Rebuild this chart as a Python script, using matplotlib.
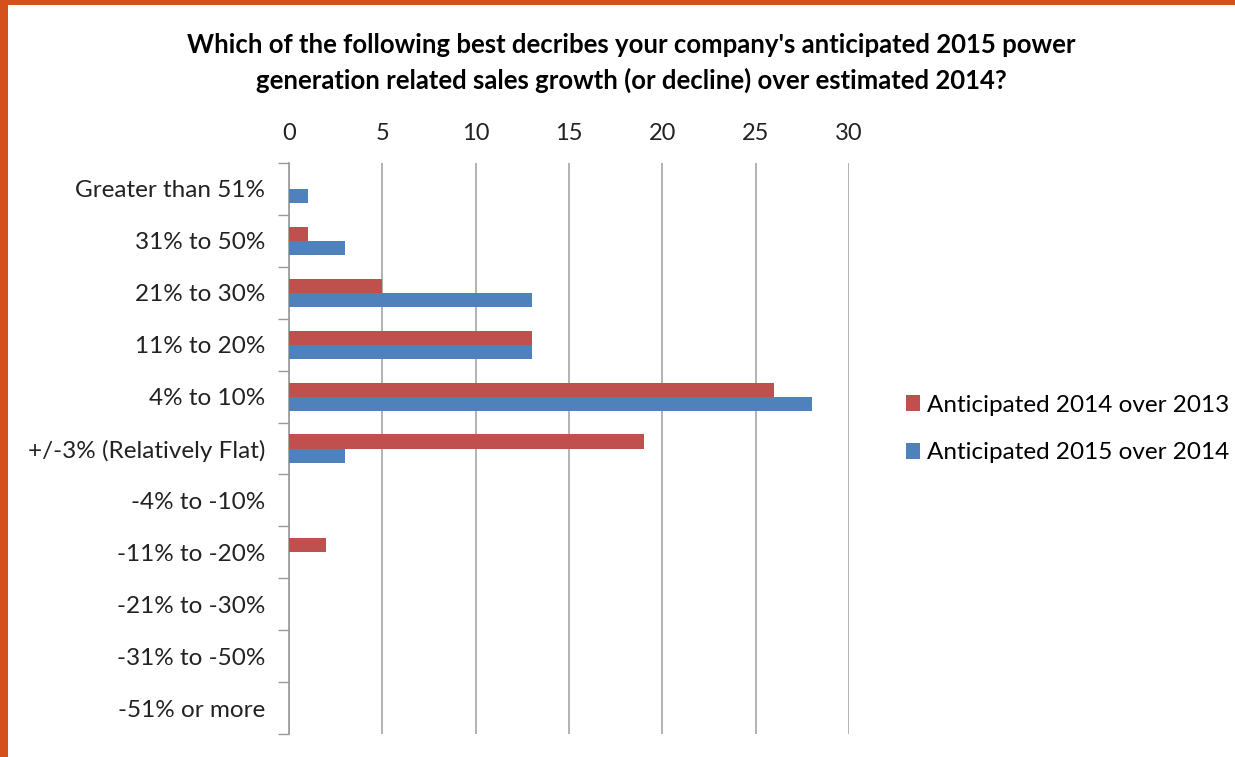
import numpy as np
import matplotlib.pyplot as plt
from matplotlib.patches import Rectangle

categories = ['Greater than 51%', '31% to 50%', '21% to 30%', '11% to 20%', '4% to 10%',
              '+/-3% (Relatively Flat)', '-4% to -10%', '-11% to -20%', '-21% to -30%',
              '-31% to -50%', '-51% or more']
ant_2014 = [0, 1, 5, 13, 26, 19, 0, 2, 0, 0, 0]
ant_2015 = [1, 3, 13, 13, 28, 3, 0, 0, 0, 0, 0]
x_ticks = [0, 5, 10, 15, 20, 25, 30]

RED = '#C0504D'
BLUE = '#4F81BD'
FONT = 'Lato'

W, H = 1235, 757
fig = plt.figure(figsize=(W / 100, H / 100), dpi=100)
fig.patch.set_facecolor('#D4501C')
# white slide area (orange border left and top)
fig.add_artist(Rectangle((8 / W, 0), 1, 1 - 5 / H, transform=fig.transFigure,
                         facecolor='white', edgecolor='none', zorder=0))

ax = fig.add_axes([289 / W, 1 - 734 / H, (849 - 289) / W, (734 - 163) / H])
ax.set_facecolor('white')

y = np.arange(len(categories))
h = 0.27
ax.barh(y - h / 2, ant_2014, height=h, color=RED, label='Anticipated 2014 over 2013', zorder=3)
ax.barh(y + h / 2, ant_2015, height=h, color=BLUE, label='Anticipated 2015 over 2014', zorder=3)

ax.set_ylim(len(categories) - 0.5, -0.5)
ax.set_xlim(0, 30)
ax.set_yticks(y)
ax.set_yticklabels(categories, fontsize=17.5, family=FONT, color='#222222')
ax.set_yticks(np.arange(-0.5, len(categories), 1), minor=True)
ax.tick_params(axis='y', which='major', length=0, pad=17)
ax.tick_params(axis='y', which='minor', length=8, color='#999999', width=1)

ax.xaxis.tick_top()
ax.set_xticks(x_ticks)
ax.set_xticklabels([str(v) for v in x_ticks], fontsize=17, family=FONT, color='#222222')
ax.tick_params(axis='x', length=0, pad=14)
ax.grid(axis='x', color='#A6A6A6', linewidth=1.2, zorder=0)

for s in ['top', 'right', 'bottom']:
    ax.spines[s].set_visible(False)
ax.spines['left'].set_color('#999999')
ax.spines['left'].set_linewidth(1.2)

fig.text(631 / W, 1 - 45 / H,
         "Which of the following best decribes your company's anticipated 2015 power",
         ha='center', va='center', fontsize=18.5, fontweight='bold', family=FONT)
fig.text(631 / W, 1 - 80 / H,
         "generation related sales growth (or decline) over estimated 2014?",
         ha='center', va='center', fontsize=18.5, fontweight='bold', family=FONT)

leg = fig.legend(loc='center left', bbox_to_anchor=(884 / W, 1 - 429 / H), frameon=False,
                 prop={'family': FONT, 'size': 17.5}, handlelength=0.6, handleheight=0.6,
                 handletextpad=0.25, labelspacing=1.1)

fig.savefig('out.png', dpi=100)
